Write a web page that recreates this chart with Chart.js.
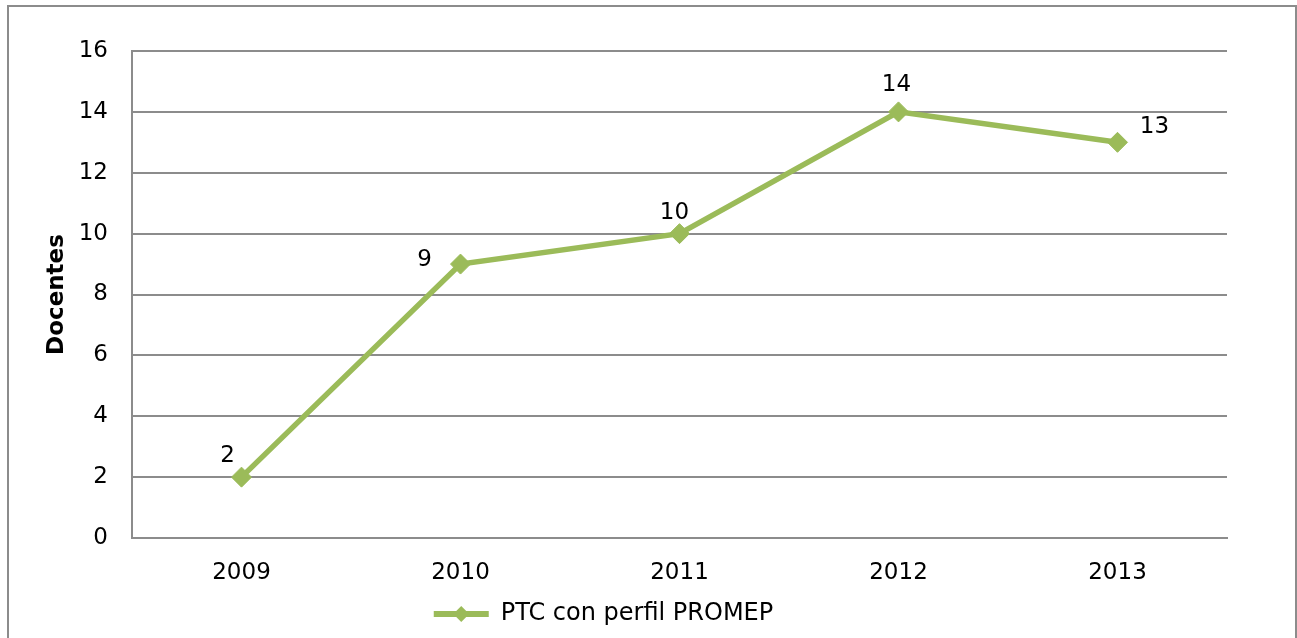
<!DOCTYPE html>
<html>
<head>
<meta charset="utf-8">
<script src="https://cdn.jsdelivr.net/npm/chart.js@4/dist/chart.umd.min.js"></script>
<style>
  html, body { margin: 0; padding: 0; background: #fff; }
  #wrap { position: relative; width: 1297px; height: 638px; }
</style>
</head>
<body>
<div id="wrap"><canvas id="chart" width="1297" height="638"></canvas></div>
<script>
const years = ['2009', '2010', '2011', '2012', '2013'];
const docentes = [2, 9, 10, 14, 13];
const seriesName = 'PTC con perfil PROMEP';
const yTicks = [0, 2, 4, 6, 8, 10, 12, 14, 16];

const GREEN = '#9BBB59';
const GRAY = '#8c8c8c';
const FONT = 'DejaVu Sans, Verdana, sans-serif';

// where each value label sits relative to its point (dx, dy)
const labelOffsets = [[-14, -21], [-36, -4], [-5, -21], [-2, -27], [37, -15]];

const frameBorder = {
    id: 'frameBorder',
    beforeDraw(chart) {
        const ctx = chart.ctx;
        ctx.save();
        ctx.strokeStyle = GRAY;
        ctx.lineWidth = 2;
        ctx.beginPath();
        ctx.moveTo(8, 660);
        ctx.lineTo(8, 6);
        ctx.lineTo(1296, 6);
        ctx.lineTo(1296, 660);
        ctx.stroke();
        ctx.restore();
    }
};

// legend sits a bit left of the full-width centre in the original
const legendShift = {
    id: 'legendShift',
    afterLayout(chart) {
        if (chart.legend) {
            chart.legend.left -= 10;
            chart.legend.right -= 10;
        }
    }
};

const valueLabels = {
    id: 'valueLabels',
    afterDatasetsDraw(chart) {
        const ctx = chart.ctx;
        const meta = chart.getDatasetMeta(0);
        ctx.save();
        ctx.font = '23px ' + FONT;
        ctx.fillStyle = '#000';
        ctx.textAlign = 'center';
        ctx.textBaseline = 'middle';
        meta.data.forEach((pt, i) => {
            const off = labelOffsets[i];
            ctx.fillText(String(docentes[i]), pt.x + off[0], pt.y + off[1]);
        });
        ctx.restore();
    }
};

// diamond in the middle of the legend line
const legendMarker = {
    id: 'legendMarker',
    afterDraw(chart) {
        const lg = chart.legend;
        if (!lg || !lg.legendHitBoxes || !lg.legendHitBoxes.length) return;
        const hb = lg.legendHitBoxes[0];
        const cx = hb.left + 55 / 2;
        const cy = hb.top + hb.height / 2;
        const ctx = chart.ctx;
        ctx.save();
        ctx.fillStyle = GREEN;
        ctx.beginPath();
        ctx.moveTo(cx - 8, cy);
        ctx.lineTo(cx, cy - 8);
        ctx.lineTo(cx + 8, cy);
        ctx.lineTo(cx, cy + 8);
        ctx.closePath();
        ctx.fill();
        ctx.restore();
    }
};

new Chart(document.getElementById('chart').getContext('2d'), {
    type: 'line',
    data: {
        labels: years,
        datasets: [{
            label: seriesName,
            data: docentes,
            borderColor: GREEN,
            backgroundColor: GREEN,
            borderWidth: 5.5,
            pointStyle: 'rectRot',
            pointRadius: 10,
            pointHoverRadius: 10,
            pointBorderWidth: 1,
            pointBackgroundColor: GREEN,
            pointBorderColor: GREEN,
            tension: 0
        }]
    },
    options: {
        responsive: false,
        animation: false,
        layout: { padding: { top: 51, right: 70, left: 0, bottom: 2 } },
        plugins: {
            legend: {
                position: 'bottom',
                labels: {
                    boxWidth: 55,
                    boxHeight: 6,
                    color: '#000',
                    padding: 10,
                    font: { family: FONT, size: 24 },
                    generateLabels(chart) {
                        return [{
                            text: seriesName,
                            fillStyle: GREEN,
                            strokeStyle: GREEN,
                            lineWidth: 0,
                            datasetIndex: 0
                        }];
                    }
                }
            },
            tooltip: { enabled: false }
        },
        scales: {
            x: {
                offset: true,
                grid: { display: false, drawTicks: false },
                border: { display: true, color: GRAY, width: 2 },
                ticks: { color: '#000', padding: 21, font: { family: FONT, size: 23 } },
                afterFit(scale) { scale.height = 54; }
            },
            y: {
                min: 0,
                max: 16,
                afterBuildTicks(scale) { scale.ticks = yTicks.map(v => ({ value: v })); },
                grid: { color: GRAY, lineWidth: 2, drawTicks: false },
                border: { display: true, color: GRAY, width: 2 },
                ticks: { color: '#000', padding: 24, font: { family: FONT, size: 23 } },
                title: {
                    display: true,
                    text: 'Docentes',
                    color: '#000',
                    font: { family: FONT, size: 23, weight: 'bold' },
                    padding: { top: 43, bottom: 0 }
                },
                afterFit(scale) { scale.width = 132; }
            }
        }
    },
    plugins: [frameBorder, legendShift, valueLabels, legendMarker]
});
</script>
</body>
</html>
